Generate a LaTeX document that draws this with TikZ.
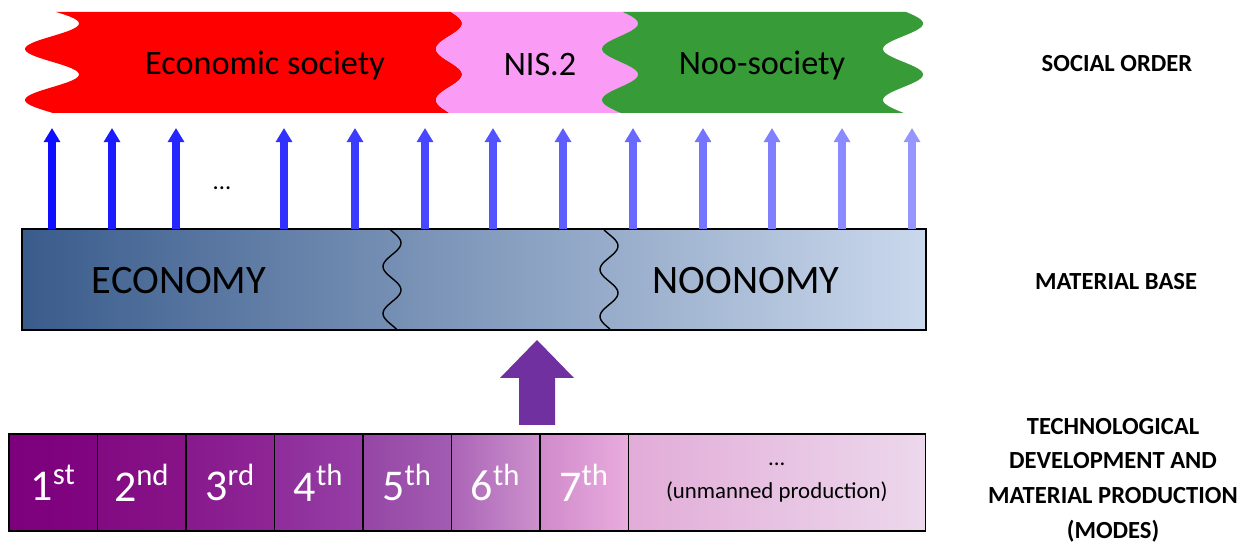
\documentclass[tikz,border=0pt]{standalone}
\usepackage{fontspec}
\setmainfont{Carlito}
\usetikzlibrary{positioning}
\usetikzlibrary{arrows.meta}

\definecolor{ecored}{RGB}{255,0,0}
\definecolor{nispink}{RGB}{250,155,245}
\definecolor{noogreen}{RGB}{55,155,55}
\definecolor{baseleft}{RGB}{58,92,140}
\definecolor{baseright}{RGB}{202,216,236}
\definecolor{pushcolor}{RGB}{112,48,160}
\definecolor{ml1}{RGB}{125,0,125}   \definecolor{mr1}{RGB}{128,5,128}
\definecolor{ml2}{RGB}{130,10,130}  \definecolor{mr2}{RGB}{135,20,135}
\definecolor{ml3}{RGB}{135,25,140}  \definecolor{mr3}{RGB}{142,38,150}
\definecolor{ml4}{RGB}{142,45,155}  \definecolor{mr4}{RGB}{150,62,165}
\definecolor{ml5}{RGB}{150,70,165}  \definecolor{mr5}{RGB}{162,92,178}
\definecolor{ml6}{RGB}{170,100,182} \definecolor{mr6}{RGB}{205,145,205}
\definecolor{ml7}{RGB}{208,138,202} \definecolor{mr7}{RGB}{232,172,222}
\definecolor{ml8}{RGB}{226,172,216} \definecolor{mr8}{RGB}{236,216,236}

\tikzset{
  wave/.style={samples=60,smooth,variable=\y},
  order/.style={font=\fontsize{19.5}{22}\selectfont},
  heading/.style={font=\bfseries\fontsize{14}{19.8}\selectfont,align=center},
  uparrow/.style={line width=4pt,-{Triangle[width=9pt,length=8pt]}},
  mode/.style={draw,line width=0.9pt,minimum width=1.77cm,minimum height=1.94cm,
    inner sep=0pt,outer sep=0pt,text=white,font=\fontsize{25}{28}\selectfont},
}

\begin{document}
\begin{tikzpicture}[x=0.02cm,y=-0.02cm]
\useasboundingbox (0,0) rectangle (1244,546);

% social order
\fill[ecored] plot[wave,domain=12:113] ({52+27*cos(7.06*(\y-23.5))},\y)
  -- plot[wave,domain=113:12] ({449+13*cos(7.06*(\y-23.5))},\y) -- cycle;
\fill[nispink] plot[wave,domain=12:113] ({449+13*cos(7.06*(\y-23.5))},\y)
  -- plot[wave,domain=113:12] ({620+18*cos(7.06*(\y-23.5))},\y) -- cycle;
\fill[noogreen] plot[wave,domain=12:113] ({620+18*cos(7.06*(\y-23.5))},\y)
  -- plot[wave,domain=113:12] ({903+20*cos(7.06*(\y-23.5))},\y) -- cycle;
\node[order] (eco) at (265,65) {Economic society};
\node[order] (nis) at (540,65) {NIS.2};
\node[order] (noo) at (762,65) {Noo-society};
\node[heading] (lorder) at (1117,64) {SOCIAL ORDER};

% material base
\node[draw,line width=1.5pt,left color=baseleft,right color=baseright,
  minimum width=18.08cm,minimum height=2.02cm,inner sep=0pt,outer sep=0pt]
  (base) at (474,279.5) {};
\draw[line width=0.8pt] plot[wave,domain=230:329] ({392+9*cos(7.66*(\y-243))},\y);
\draw[line width=0.8pt] plot[wave,domain=230:329] ({609+9*cos(7.66*(\y-246))},\y);
\node[font=\fontsize{23}{26}\selectfont] (economy) at (179,281) {ECONOMY};
\node[font=\fontsize{23}{26}\selectfont] (noonomy) at (746,281) {NOONOMY};
\node[heading] (lbase) at (1116,282) {MATERIAL BASE};

% arrows up to the social order
\foreach \x [count=\i] in {52,112,176,284,355,425,493,563,633,703,772,842,912} {
  \pgfmathsetmacro\tone{98.4-4.4*\i}
  \coordinate (up\i) at (\x,128);
  \draw[uparrow,color=blue!\tone!white] (up\i |- base.north) -- (up\i);
}
\node[font=\fontsize{14}{16}\selectfont] (dots) at (222,188) {...};

% modes
\node[mode,left color=ml1,right color=mr1,anchor=north west] (m1) at (9,434) {1\textsuperscript{st}};
\foreach \i/\j/\lab in {2/1/nd,3/2/rd,4/3/th,5/4/th,6/5/th,7/6/th}
  \node[mode,left color=ml\i,right color=mr\i,right=0pt of m\j] (m\i) {\i\textsuperscript{\lab}};
\node[mode,left color=ml8,right color=mr8,right=0pt of m7,minimum width=5.94cm,
  text=black,font=\fontsize{13}{17.5}\selectfont,align=center] (m8) {...\\[1pt](unmanned production)};
\node[heading] (lmodes) at (1113,480) {TECHNOLOGICAL\\DEVELOPMENT AND\\MATERIAL PRODUCTION\\(MODES)};

% push from the modes to the base
\coordinate (push) at (537,425);
\coordinate (tip) at (537,340);
\fill[pushcolor] (push) ++(-18,0) -- ++(0,-47) -- ++(-19,0) -- (tip)
  -- ++(37,38) -- ++(-19,0) -- ++(0,47) -- cycle;
\end{tikzpicture}
\end{document}
